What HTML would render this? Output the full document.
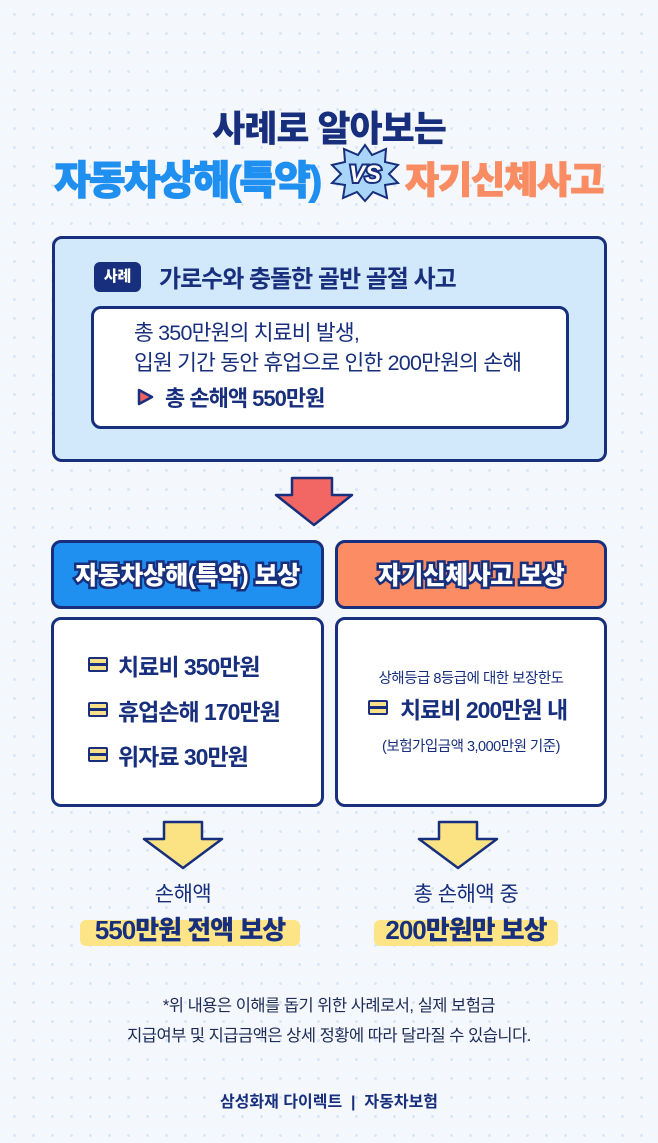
<!DOCTYPE html>
<html><head><meta charset="utf-8"><style>
*{margin:0;padding:0;box-sizing:border-box}
body{width:658px;height:1143px;position:relative;overflow:hidden;font-family:"Liberation Sans","Noto Sans CJK KR",sans-serif;color:#172f7c;
background-color:#f4f8fd;background-image:radial-gradient(circle,#d3e4f5 1.2px,transparent 1.6px);background-size:19px 19px;background-position:5px 5px}
.a{position:absolute}
.c{position:absolute;left:0;width:658px;text-align:center;white-space:nowrap}
.box{position:absolute;border:3px solid #172f7c;border-radius:10px}
.hd{font-weight:900;color:#fff;font-size:25px;-webkit-text-stroke:5px #172f7c;paint-order:stroke fill;letter-spacing:-0.5px}
.ic{position:absolute;width:20px;height:15px;border:2.5px solid #172f7c;background:#fbe08a;border-radius:2px}
.ic:after{content:"";position:absolute;left:0;right:0;top:4px;height:2.5px;background:#172f7c}
.it{position:absolute;font-size:23px;font-weight:700;letter-spacing:-1px;white-space:nowrap}
</style></head><body>
<div class="c" style="top:100px;font-size:36px;font-weight:900;letter-spacing:-1px;color:#172f7c">사례로 알아보는</div>
<div class="a" style="left:54px;top:148px;font-size:40px;font-weight:900;letter-spacing:-2px;color:#1f8ff0;-webkit-text-stroke:1px #1f8ff0;white-space:nowrap">자동차상해(특약)</div>
<svg class="a" style="left:330px;top:143px" width="70" height="60" viewBox="0 0 70 60"><polygon points="35,2 42,12 56,6 55,19 68,22 59,31 68,40 55,42 57,55 43,49 35,58 27,49 13,55 15,42 2,40 11,31 2,22 15,19 14,6 28,12" fill="#a9d6f8" stroke="#172f7c" stroke-width="2"/><text x="35" y="39" text-anchor="middle" font-family="Liberation Sans" font-weight="900" font-size="24" fill="#fff" stroke="#172f7c" stroke-width="4" paint-order="stroke" font-style="italic">VS</text></svg>
<div class="a" style="left:405px;top:150px;font-size:37px;font-weight:900;letter-spacing:-1px;color:#f98c62;-webkit-text-stroke:1px #f98c62;white-space:nowrap">자기신체사고</div>

<div class="box" style="left:52px;top:236px;width:555px;height:226px;background:#d2e8fb"></div>
<div class="a" style="left:94px;top:262px;width:47px;height:30px;background:#172f7c;border-radius:6px;color:#fff;font-size:15px;font-weight:900;text-align:center;line-height:30px">사례</div>
<div class="a" style="left:159px;top:259px;font-size:24px;font-weight:700;letter-spacing:-1px;white-space:nowrap">가로수와 충돌한 골반 골절 사고</div>
<div class="box" style="left:91px;top:306px;width:478px;height:123px;background:#fff"></div>
<div class="a" style="left:134px;top:318px;font-size:21.5px;line-height:30px;letter-spacing:-0.8px;white-space:nowrap">총 350만원의 치료비 발생,<br>입원 기간 동안 휴업으로 인한 200만원의 손해</div>
<svg class="a" style="left:136px;top:387px" width="20" height="20"><polygon points="3,3 16,10 3,17" fill="#f0605f" stroke="#172f7c" stroke-width="2.5" stroke-linejoin="round"/></svg>
<div class="a" style="left:165px;top:381px;font-size:22px;font-weight:700;letter-spacing:-1px;white-space:nowrap">총 손해액 550만원</div>

<svg class="a" style="left:268px;top:476px" width="90" height="52"><polygon points="24,2 64,2 64,19 84,19 46,49 8,19 24,19" fill="#f26763" stroke="#172f7c" stroke-width="2.5" stroke-linejoin="round"/></svg>

<div class="box" style="left:51px;top:540px;width:273px;height:69px;background:#1f8ff0"></div>
<div class="a hd" style="left:51px;top:556px;width:273px;text-align:center">자동차상해(특약) 보상</div>
<div class="box" style="left:335px;top:540px;width:272px;height:69px;background:#fb8c64"></div>
<div class="a hd" style="left:335px;top:556px;width:272px;text-align:center">자기신체사고 보상</div>

<div class="box" style="left:51px;top:617px;width:273px;height:190px;background:#fff"></div>
<div class="box" style="left:335px;top:617px;width:272px;height:190px;background:#fff"></div>
<div class="ic" style="left:88px;top:657px"></div><div class="it" style="left:118px;top:648px">치료비 350만원</div>
<div class="ic" style="left:88px;top:702px"></div><div class="it" style="left:118px;top:693px">휴업손해 170만원</div>
<div class="ic" style="left:88px;top:747px"></div><div class="it" style="left:118px;top:738px">위자료 30만원</div>
<div class="a" style="left:335px;top:667px;width:272px;text-align:center;font-size:14.5px;letter-spacing:-0.5px">상해등급 8등급에 대한 보장한도</div>
<div class="ic" style="left:368px;top:700px"></div><div class="it" style="left:400px;top:691px">치료비 200만원 내</div>
<div class="a" style="left:335px;top:735px;width:272px;text-align:center;font-size:14.5px;letter-spacing:-0.5px">(보험가입금액 3,000만원 기준)</div>

<svg class="a" style="left:138px;top:820px" width="92" height="52"><polygon points="26,2 64,2 64,19 84,19 45,48 6,19 26,19" fill="#fbe283" stroke="#172f7c" stroke-width="2.5" stroke-linejoin="round"/></svg>
<svg class="a" style="left:413px;top:820px" width="92" height="52"><polygon points="26,2 64,2 64,19 84,19 45,48 6,19 26,19" fill="#fbe283" stroke="#172f7c" stroke-width="2.5" stroke-linejoin="round"/></svg>

<div class="a" style="left:83px;top:878px;width:200px;text-align:center;font-size:21px;letter-spacing:-0.5px">손해액</div>
<div class="a" style="left:80px;top:920px;width:220px;height:26px;background:#fce487;border-radius:6px"></div>
<div class="a" style="left:60px;top:910px;width:260px;text-align:center;font-size:26px;font-weight:900;letter-spacing:-1px">550만원 전액 보상</div>
<div class="a" style="left:366px;top:878px;width:200px;text-align:center;font-size:21px;letter-spacing:-0.5px">총 손해액 중</div>
<div class="a" style="left:374px;top:920px;width:184px;height:26px;background:#fce487;border-radius:6px"></div>
<div class="a" style="left:346px;top:910px;width:240px;text-align:center;font-size:26px;font-weight:900;letter-spacing:-1px">200만원만 보상</div>

<div class="c" style="top:991px;font-size:16.5px;line-height:30px;letter-spacing:-0.5px;color:#1d2b55">*위 내용은 이해를 돕기 위한 사례로서, 실제 보험금<br>지급여부 및 지급금액은 상세 정황에 따라 달라질 수 있습니다.</div>
<div class="c" style="top:1088px;font-size:16px;font-weight:700;letter-spacing:0px">삼성화재 다이렉트 &nbsp;|&nbsp; 자동차보험</div>
</body></html>
